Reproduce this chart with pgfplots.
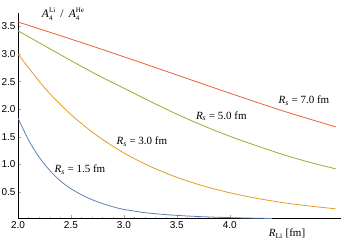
\documentclass[border=0pt]{standalone}
\usepackage{pgfplots}
\pgfplotsset{compat=1.18}
\usepackage{fontspec}
\setmainfont{Liberation Serif}
\newfontfamily\ticksf{Liberation Sans}
\definecolor{cblue}{HTML}{5E81B5}
\definecolor{corange}{HTML}{E19C24}
\definecolor{cgreen}{HTML}{8FB032}
\definecolor{cred}{HTML}{EB6235}
\newcommand{\Rs}[1]{\textit{R}\textsubscript{\textit{s}}\hspace{0.25em}=\hspace{0.25em}#1 fm}
\newcommand{\Afour}[1]{\textit{A}\rlap{\raisebox{-3.2pt}{\fontsize{7}{7}\selectfont 4}}\raisebox{5pt}{\fontsize{7}{7}\selectfont #1}}
\begin{document}
\begin{tikzpicture}
\path[use as bounding box] (-18pt,-24.5pt) rectangle (323pt,218.5pt);
\begin{axis}[
  at={(0,0)}, anchor=origin,
  scale only axis, width=323pt, height=205.9pt,
  xmin=2, xmax=5.05, ymin=0.02, ymax=3.75,
  axis lines=left, axis line style={-, line width=0.7pt, black},
  clip=false,
  xtick={2,2.5,3,3.5,4}, ytick={0.5,1,1.5,2,2.5,3,3.5},
  xticklabels={2.0,2.5,3.0,3.5,4.0},
  yticklabels={0.5,1.0,1.5,2.0,2.5,3.0,3.5},
  minor tick num=4,
  tick align=inside,
  major tick length=3pt, minor tick length=1.5pt,
  tick style={gray!70, line width=0.5pt},
  /pgf/number format/assume math mode=true,
  ticklabel style={font=\ticksf\fontsize{10}{12}\selectfont},
  xticklabel style={yshift=1pt},
  yticklabel style={xshift=1pt},
  every axis plot/.append style={line width=0.8pt, no markers, smooth},
]
\addplot[cred] coordinates {(2.0,3.58)(2.5,3.27)(3.0,2.95)(3.5,2.62)(4.0,2.29)(4.5,1.97)(5.0,1.68)};
\addplot[cgreen] coordinates {(2.00,3.42)(2.25,3.15)(2.50,2.88)(2.75,2.62)(3.00,2.38)(3.25,2.14)(3.50,1.91)(3.75,1.70)(4.00,1.51)(4.25,1.34)(4.50,1.18)(4.75,1.04)(5.00,0.92)};
\addplot[corange] coordinates {(2.00,3.000)(2.25,2.390)(2.50,1.903)(2.75,1.516)(3.00,1.207)(3.25,0.962)(3.50,0.766)(3.75,0.610)(4.00,0.486)(4.25,0.387)(4.50,0.308)(4.75,0.246)(5.00,0.196)};
\addplot[cblue] coordinates {(2.0,1.84)(2.1,1.44)(2.2,1.13)(2.3,0.89)(2.4,0.70)(2.5,0.56)(2.6,0.45)(2.7,0.36)(2.8,0.29)(2.9,0.23)(3.0,0.185)(3.2,0.125)(3.4,0.090)(3.6,0.065)(3.8,0.048)(4.0,0.036)(4.2,0.027)(4.4,0.020)};
\node[font=\fontsize{11}{12}\selectfont] at (axis cs:4.70,2.15) {\Rs{7.0}};
\node[font=\fontsize{11}{12}\selectfont] at (axis cs:3.92,1.875) {\Rs{5.0}};
\node[font=\fontsize{11}{12}\selectfont] at (axis cs:3.17,1.41) {\Rs{3.0}};
\node[font=\fontsize{11}{12}\selectfont] at (axis cs:2.585,0.90) {\Rs{1.5}};
\node[font=\fontsize{11.5}{12}\selectfont] at (axis cs:2.425,3.72) {\Afour{Li}\hspace{0.45em}/\hspace{0.45em}\Afour{He}};
\node[font=\fontsize{11}{12}\selectfont] at (axis cs:4.54,-0.25) {\textit{R}\textsubscript{Li} [fm]};
\end{axis}
\end{tikzpicture}
\end{document}
